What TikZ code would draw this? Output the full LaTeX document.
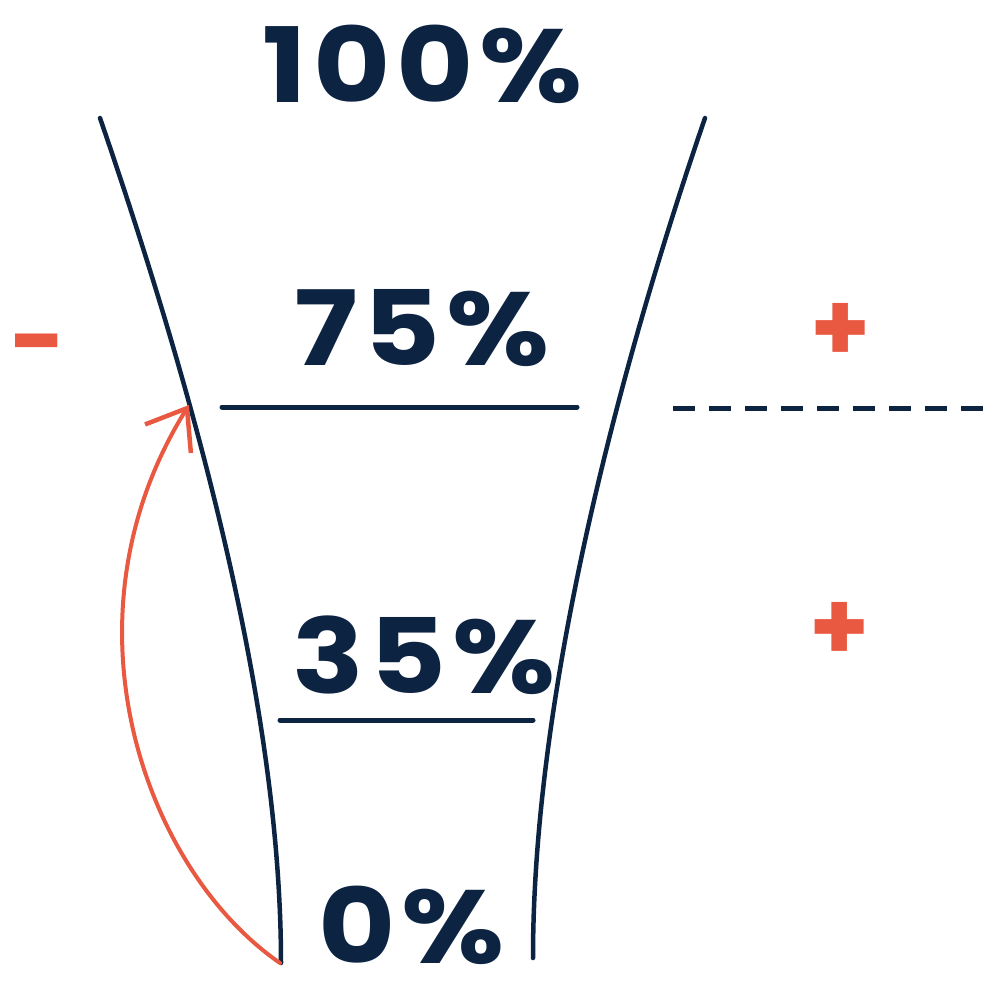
\documentclass[tikz,border=0pt]{standalone}
\usepackage{fontspec}
\setmainfont{Poppins}
\usepackage{xcolor}
\usepackage{tikz}
\usetikzlibrary{arrows.meta}
\definecolor{fnavy}{RGB}{12,35,66}
\definecolor{forange}{RGB}{233,88,64}
\tikzset{
  pct/.style={font=\fontsize{104}{104}\selectfont\bfseries\addfontfeature{LetterSpace=5},
    text=fnavy, inner sep=0pt, xscale=1.14, transform shape},
  sgn/.style={font=\fontsize{96}{96}\selectfont\bfseries, text=forange, inner sep=0pt},
  wall/.style={draw=fnavy, line width=4.5pt, line cap=round},
  lvl/.style={draw=fnavy, line width=5pt, line cap=round},
  dsh/.style={lvl, line cap=butt, dash pattern=on 22pt off 14pt},
  jump/.style={draw=forange, line width=4pt, line cap=round,
    -{Straight Barb[length=36pt, width=54pt, line width=4.5pt]}},
}

\begin{document}
\begin{tikzpicture}[x=1pt, y=-1pt]
      \useasboundingbox (0,0) rectangle (989,985);
      % percentages
      \node[pct] (p100) at (423,64)  {100\%};
      \node[pct] (p75)  at (422,328) {75\%};
      \node[pct] (p35)  at (424,655) {35\%};
      \node[pct] (p0)   at (412,925) {0\%};
      % signs
      \node[sgn] (minus) at (38,354)  {-};
      \node[sgn] (plusA) at (841,332) {+};
      \node[sgn] (plusB) at (840,631) {+};
      % the funnel walls
      \draw[wall] (100,118) .. controls (190,380) and (281,700) .. (281,963);
      \draw[wall] (705,118) .. controls (615,380) and (533,700) .. (533,958);
      % levels
      \coordinate (l75a) at (222,407);
      \coordinate (l75b) at (577,407);
      \coordinate (l35a) at (280,720);
      \coordinate (l35b) at (533,720);
      \coordinate (dsha) at (673,408);
      \coordinate (dshb) at (995,408);
      \draw[lvl] (l75a) -- (l75b);
      \draw[lvl] (l35a) -- (l35b);
      \draw[dsh] (dsha) -- (dshb);
      % the jump
      \coordinate (jfrom) at (280,963);
      \coordinate (jto)   at (189,405);
      \draw[jump] (jfrom) .. controls (145,870) and (55,620) .. (jto);
\end{tikzpicture}
\end{document}
